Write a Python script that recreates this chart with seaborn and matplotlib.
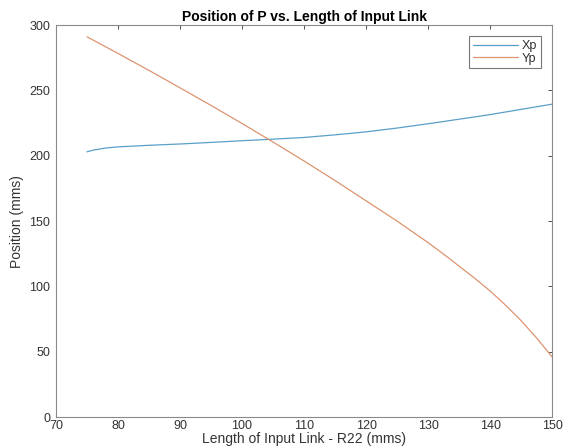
import matplotlib
matplotlib.use("Agg")
import matplotlib.pyplot as plt
import numpy as np
import pandas as pd
import seaborn as sns

# values
r22 = [75, 76, 78, 80, 85, 90, 95, 100, 105, 110, 115, 120, 125, 130, 132.5, 135, 137.5,
       140, 142.5, 145, 147.5, 150]
xp = [203, 204.3, 205.9, 206.8, 208, 209, 210.2, 211.5, 212.7, 214, 216, 218.3, 221.2, 224.5,
      226.2, 228, 229.7, 231.5, 233.5, 235.5, 237.5, 239.5]
yp = [291, 288.5, 283.4, 278.3, 265.3, 252, 238.5, 224.7, 210.5, 196, 181, 165.5, 150, 133.5,
      124.7, 115.5, 106.3, 96.5, 85.6, 73.8, 60.5, 46]

df = pd.DataFrame({"R22": r22 * 2, "pos": xp + yp, "series": ["Xp"] * len(r22) + ["Yp"] * len(r22)})

sns.set_theme(style="white")
plt.rcParams["font.family"] = ["Liberation Sans", "DejaVu Sans"]
grey = "#333333"

fig = plt.figure(figsize=(5.69, 4.48), dpi=100)
ax = fig.add_axes([0.0984, 0.069, 0.872, 0.875])

sns.lineplot(data=df, x="R22", y="pos", hue="series", palette=["#5a9fc8", "#dd9470"],
             linewidth=0.9, ax=ax)

ax.set_xlim(70, 150)
ax.set_ylim(0, 300)
ax.set_xticks(np.arange(70, 151, 10))
ax.set_yticks(np.arange(0, 301, 50))
ax.tick_params(direction="in", top=True, right=True, length=3, width=0.6,
               labelsize=9, colors=grey, pad=2)
ax.tick_params(axis="y", pad=4)
for s in ax.spines.values():
    s.set_color("#8a8a8a")
    s.set_linewidth(0.8)

ax.set_xlabel("Length of Input Link - R22 (mms)", fontsize=10, color=grey, labelpad=0)
ax.set_ylabel("Position (mms)", fontsize=10, color=grey, labelpad=4)
ax.set_title("Position of P vs. Length of Input Link", fontsize=10, fontweight="bold",
             color="black", pad=3)

leg = ax.legend(loc="upper right", fontsize=9, handlelength=3.6, frameon=True, fancybox=False,
                borderpad=0.3, labelspacing=0.05, handletextpad=0.3, borderaxespad=0.9)
leg.get_frame().set_edgecolor("#555555")
leg.get_frame().set_linewidth(0.8)
for t in leg.get_texts():
    t.set_color(grey)

fig.savefig("out.png", dpi=100)
